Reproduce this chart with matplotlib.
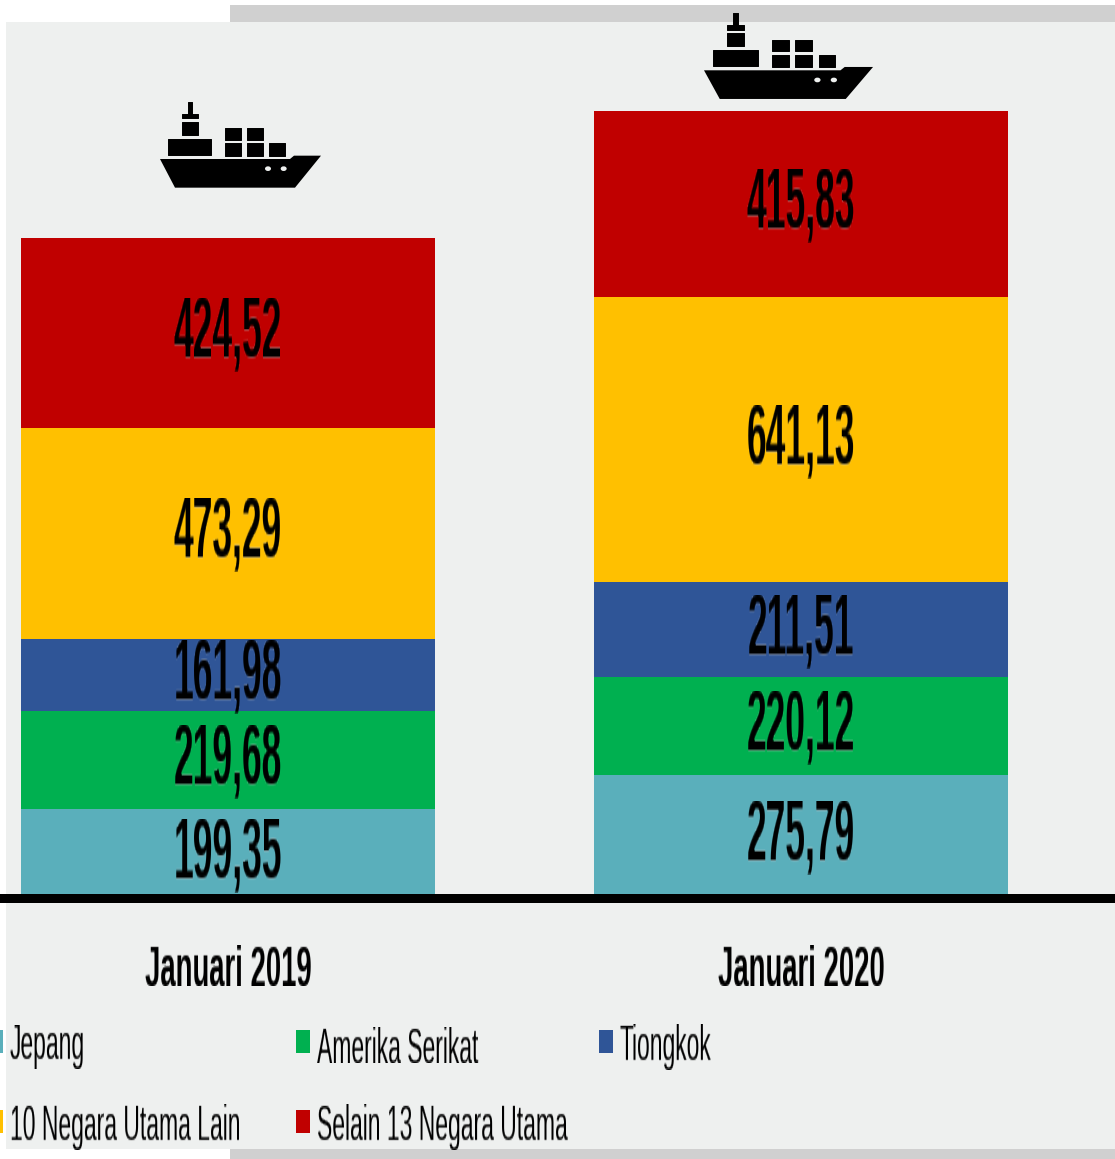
import matplotlib
matplotlib.use("Agg")
import matplotlib.pyplot as plt
import numpy as np
from matplotlib.patches import Ellipse, PathPatch, Rectangle
from matplotlib.path import Path
from matplotlib.transforms import Affine2D, IdentityTransform

W, H = 1115, 1159

# Data
periods = ['Januari 2019', 'Januari 2020']
series = ['Jepang', 'Amerika Serikat', 'Tiongkok', '10 Negara Utama Lain', 'Selain 13 Negara Utama']
jepang = [199.35, 275.79]
amerika = [219.68, 220.12]
tiongkok = [161.98, 211.51]
negara_lain = [473.29, 641.13]
selain = [424.52, 415.83]
colors = ['#5AAFBB', '#00B050', '#2F5597', '#FFC000', '#C00000']

plt.rcParams['font.family'] = ['Liberation Sans', 'DejaVu Sans']


# Text in the original is squashed, so pull it taller after it is drawn
def stretch_y(k):
    def f(img, dpi):
        h = img.shape[0]
        new_h = int(round(h * k))
        rows = np.linspace(0, h - 1, new_h)
        lo = np.floor(rows).astype(int)
        hi = np.minimum(lo + 1, h - 1)
        t = (rows - lo)[:, None, None]
        out = img[lo] * (1 - t) + img[hi] * t
        return out, 0, -(new_h - h) // 2
    return f


fig = plt.figure(figsize=(W / 100, H / 100), dpi=100)
px = IdentityTransform()


def box(x0, y0, x1, y1, color):
    fig.patches.append(Rectangle((x0, H - y1), x1 - x0, y1 - y0, transform=px, color=color, lw=0, zorder=-5))


# Background panel
box(230, 5, 1115, 22, '#D0D0D0')
box(230, 1149, 1115, 1159, '#D0D0D0')
box(6, 22, 1115, 1149, '#EEF0EF')

# Axes from the top of the picture down to the thick baseline
base_y = 898
scale = 0.446
ax = fig.add_axes([0, (H - base_y) / H, 1, base_y / H])
ax.patch.set_visible(False)
ax.set_xlim(-228 / 573, (W - 228) / 573)
ax.set_ylim(0, base_y / scale)

x = np.arange(len(periods))
bottom = np.zeros(len(periods))
for name, vals, c in zip(series, [jepang, amerika, tiongkok, negara_lain, selain], colors):
    rects = ax.bar(x, vals, 0.7225, bottom=bottom, color=c, label=name)
    labels = [f'{v:.2f}'.replace('.', ',') for v in vals]
    for t in ax.bar_label(rects, labels=labels, label_type='center', fontsize=25.5, fontweight='bold', color='black'):
        t.set_agg_filter(stretch_y(1.57))
    bottom += np.array(vals)

for s in ['top', 'left', 'right']:
    ax.spines[s].set_visible(False)
ax.spines['bottom'].set_linewidth(9 * 0.72)
ax.spines['bottom'].set_color('black')
ax.set_yticks([])
ax.set_xticks(x)
ax.set_xticklabels(periods, fontsize=19.8, fontweight='bold')
ax.tick_params(axis='x', length=0, pad=41)
for t in ax.get_xticklabels():
    t.set_agg_filter(stretch_y(2.05))

# Legend, laid out by hand because the columns are uneven and run off the left edge
swatch_x = [-11, 296, 599, -11, 296]
swatch_y = [1030, 1030, 1030, 1110, 1110]
for name, c, sx, sy in zip(series, colors, swatch_x, swatch_y):
    box(sx, sy, sx + 14, sy + 23, c)
    t = fig.text((sx + 21) / W, 1 - (sy + 17) / H, name, fontsize=16.5, va='center', ha='left')
    t.set_agg_filter(stretch_y(2.0))


# Ship icon, outline in zoomed pixel units
def ship(ox, oy, sx):
    tr = Affine2D().scale(sx / 3, -1 / 3).translate(ox, H - oy)
    hull = [(60, 207), (450, 207), (462, 197), (543, 197), (465, 293), (105, 293), (60, 207)]
    parts = [(143, 35, 156, 72), (127, 71, 173, 85), (127, 95, 173, 135), (85, 146, 214, 195),
             (255, 115, 302, 150), (321, 115, 369, 150), (255, 160, 302, 197),
             (321, 160, 369, 197), (388, 160, 435, 197)]
    fig.patches.append(PathPatch(Path(hull), transform=tr, fc='black', lw=0))
    for a, b, c, d in parts:
        fig.patches.append(Rectangle((a, b), c - a, d - b, transform=tr, fc='black', ec='black', lw=0.7, joinstyle='round'))
    for u in [384, 431]:
        fig.patches.append(Ellipse((u, 236), 18, 14, transform=tr, fc='#EEF0EF', lw=0))


ship(140, 90, 1)
ship(683, 1.3, 1.05)

fig.savefig('out.png', dpi=100)
